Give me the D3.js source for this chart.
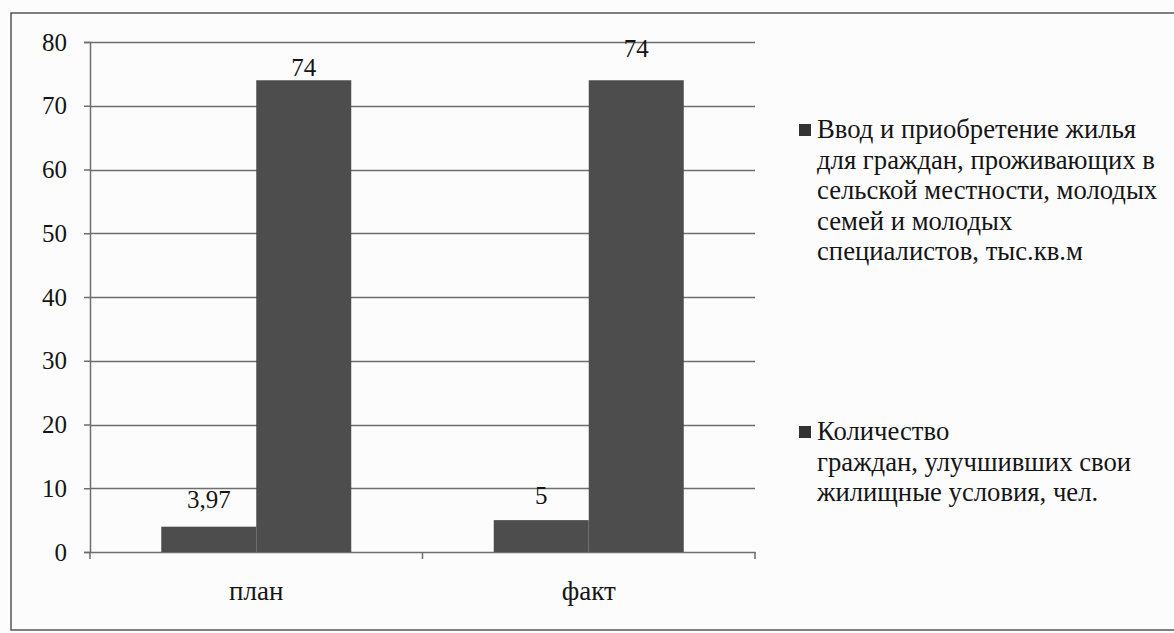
<!DOCTYPE html>
<html>
<head>
<meta charset="utf-8">
<script src="https://cdn.jsdelivr.net/npm/d3@7"></script>
</head>
<body style="margin:0;background:#fcfcfc">
<svg id="chart" width="1174" height="633" font-family="'Liberation Serif', Tinos, 'Times New Roman', serif" style="display:block"></svg>
<script>
// ---- data ----
const categories = ["план", "факт"];
const seriesNames = [
  "Ввод и приобретение жилья для граждан, проживающих в сельской местности, молодых семей и молодых специалистов, тыс.кв.м",
  "Количество граждан, улучшивших свои жилищные условия, чел."
];
const housingValues = [3.97, 5];   // series 1
const citizensValues = [74, 74];   // series 2
const valueLabels1 = ["3,97", "5"];
const valueLabels2 = ["74", "74"];
const yTicks = [0, 10, 20, 30, 40, 50, 60, 70, 80];
const legendLines1 = ["Ввод и приобретение жилья", "для граждан, проживающих в", "сельской местности, молодых", "семей и молодых", "специалистов, тыс.кв.м"];
const legendLines2 = ["Количество", "граждан, улучшивших свои", "жилищные условия, чел."];

// ---- layout ----
const FONT = '"Liberation Serif", Tinos, "Times New Roman", serif';
const TXT = "#151515";
const svg = d3.select("#chart");
const plot = { left: 90, right: 755, top: 42, bottom: 552 };
const barColor = "#4d4d4d";
const gridColor = "#6e6e6e";

// outer frame (right side runs off the picture)
svg.append("rect")
  .attr("x", 11).attr("y", 13).attr("width", 1200).attr("height", 617)
  .attr("fill", "none").attr("stroke", "#555").attr("stroke-width", 1.5);

const y = d3.scaleLinear().domain([0, 80]).range([plot.bottom, plot.top]);
const x0 = d3.scaleBand().domain(categories).range([plot.left, plot.right]).paddingInner(0).paddingOuter(0);
const x1 = d3.scaleBand().domain([0, 1]).range([0, x0.bandwidth()]).paddingInner(0).paddingOuter(0.75);

// gridlines
svg.append("g").selectAll("line").data(yTicks.filter(d => d > 0)).join("line")
  .attr("x1", plot.left).attr("x2", plot.right)
  .attr("y1", d => Math.round(y(d)) + 0.5).attr("y2", d => Math.round(y(d)) + 0.5)
  .attr("stroke", gridColor).attr("stroke-width", 1.5);

// y axis
const yAxis = svg.append("g").attr("transform", `translate(${plot.left},0)`)
  .call(d3.axisLeft(y).tickValues(yTicks).tickSize(6).tickPadding(17).tickFormat(d3.format("d")));
yAxis.attr("font-family", FONT).attr("font-size", 25);
yAxis.select(".domain").attr("stroke", gridColor).attr("stroke-width", 1.5);
yAxis.selectAll(".tick line").attr("stroke", gridColor).attr("stroke-width", 1.5);
yAxis.selectAll(".tick text").attr("fill", TXT);

// x axis
const xAxis = svg.append("g").attr("transform", `translate(0,${plot.bottom})`)
  .call(d3.axisBottom(x0).tickSize(0).tickPadding(29));
xAxis.attr("font-family", FONT).attr("font-size", 27);
xAxis.select(".domain").attr("stroke", gridColor).attr("stroke-width", 1.5);
xAxis.selectAll(".tick text").attr("fill", TXT);
// category boundary ticks
const bounds = [plot.left, plot.left + x0.bandwidth(), plot.right];
svg.append("g").selectAll("line").data(bounds).join("line")
  .attr("x1", d => d).attr("x2", d => d)
  .attr("y1", plot.bottom).attr("y2", plot.bottom + 7)
  .attr("stroke", gridColor).attr("stroke-width", 1.5);

// bars
const rows = categories.map((c, i) => ({ c, vals: [housingValues[i], citizensValues[i]], labels: [valueLabels1[i], valueLabels2[i]] }));
const groups = svg.append("g").selectAll("g").data(rows).join("g")
  .attr("transform", d => `translate(${x0(d.c)},0)`);
groups.selectAll("rect").data(d => d.vals).join("rect")
  .attr("x", (d, i) => x1(i)).attr("width", x1.bandwidth())
  .attr("y", d => y(d)).attr("height", d => y(0) - y(d))
  .attr("fill", barColor);

// value labels (nudged individually as in the original)
const labelLift = [[19, 4], [16, 23]];
groups.each(function (d, ci) {
  d3.select(this).selectAll("text.val").data(d.vals).join("text")
    .attr("class", "val")
    .attr("x", (v, i) => x1(i) + x1.bandwidth() / 2)
    .attr("y", (v, i) => y(v) - labelLift[ci][i])
    .attr("text-anchor", "middle")
    .attr("font-family", FONT)
    .attr("font-size", 25)
    .attr("fill", TXT)
    .text((v, i) => d.labels[i]);
});

// legend
const legendItems = [
  { lines: legendLines1, base: 138 },
  { lines: legendLines2, base: 440 }
];
const lineH = 30.5;
legendItems.forEach(item => {
  const g = svg.append("g");
  g.append("rect").attr("x", 799).attr("y", item.base - 14).attr("width", 12).attr("height", 12)
    .attr("fill", "#333");
  g.selectAll("text").data(item.lines).join("text")
    .attr("x", 817).attr("y", (d, i) => item.base + i * lineH)
    .attr("font-family", FONT)
    .attr("font-size", 26.7)
    .attr("fill", TXT)
    .text(d => d);
});
</script>
</body>
</html>
